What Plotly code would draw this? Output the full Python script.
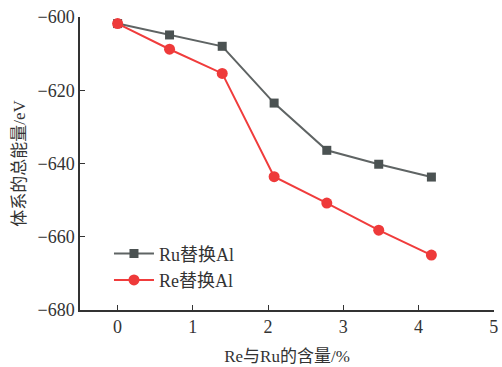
import plotly.graph_objects as go

x_vals = [0, 0.69, 1.39, 2.08, 2.78, 3.47, 4.17]
ru_vals = [-601.8, -604.9, -608.0, -623.5, -636.4, -640.2, -643.7]
re_vals = [-601.8, -608.8, -615.4, -643.6, -650.8, -658.2, -665.0]
ru_name = "Ru替换Al"
re_name = "Re替换Al"
x_title = "Re与Ru的含量/%"
y_title = "体系的总能量/eV"

FONT = "Liberation Serif, Times New Roman, Noto Sans CJK SC, serif"

fig = go.Figure()
fig.add_trace(go.Scatter(
    x=x_vals, y=ru_vals, name=ru_name, mode="lines+markers",
    line=dict(color="#5f6464", width=2),
    marker=dict(symbol="square", size=9, color="#4b5252"),
))
fig.add_trace(go.Scatter(
    x=x_vals, y=re_vals, name=re_name, mode="lines+markers",
    line=dict(color="#f03c3c", width=2),
    marker=dict(symbol="circle", size=11, color="#ee3a3a"),
))

axis_common = dict(
    showline=True, linecolor="#333333", linewidth=1.5,
    ticks="inside", ticklen=5, tickcolor="#333333", tickwidth=1.2,
    showgrid=False, zeroline=False, ticklabeloverflow="allow",
    tickfont=dict(family=FONT, size=18, color="#333333"),
)
fig.update_xaxes(range=[-0.5, 5.002], dtick=1, tick0=0,
                 title=dict(text=x_title, font=dict(family=FONT, size=17, color="#333333"), standoff=14),
                 **axis_common)
fig.update_yaxes(range=[-680, -600], dtick=20, tick0=-680,
                 title=dict(text=y_title, font=dict(family=FONT, size=17, color="#333333"), standoff=8),
                 **axis_common)

fig.update_layout(
    width=502, height=367,
    margin=dict(l=80, r=4, t=17, b=53),
    plot_bgcolor="white", paper_bgcolor="white",
    font=dict(family=FONT, size=17, color="#333333"),
    legend=dict(x=0.07, y=0.255, xanchor="left", yanchor="top",
                bgcolor="rgba(0,0,0,0)", font=dict(family=FONT, size=18, color="#333333"),
                itemwidth=40, tracegroupgap=0),
    showlegend=True,
)

fig.write_html("out.html")
